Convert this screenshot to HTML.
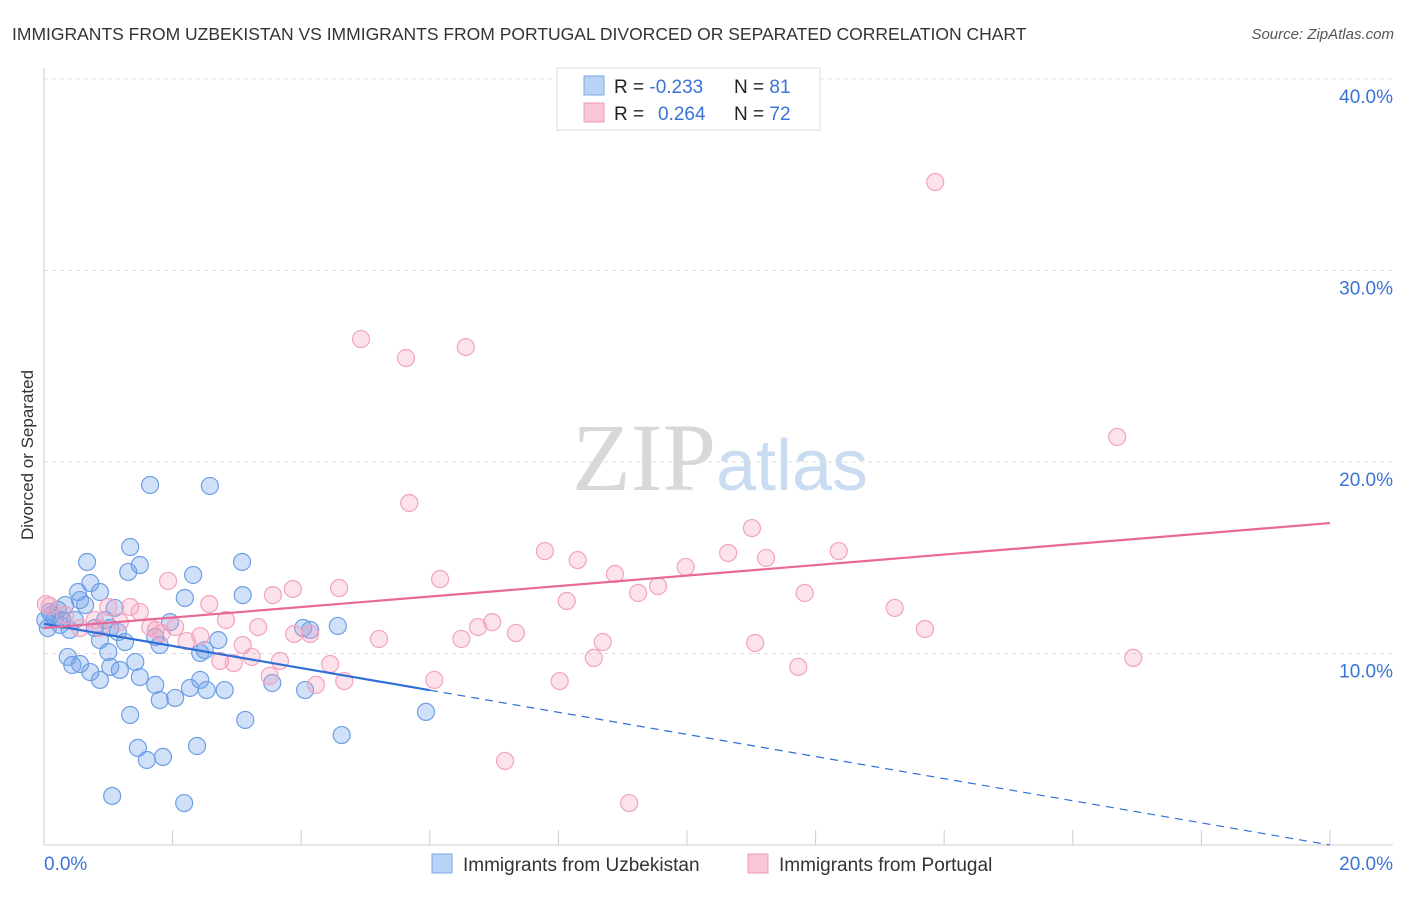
<!DOCTYPE html>
<html><head><meta charset="utf-8"><style>
body{margin:0;background:#fff;font-family:"Liberation Sans",sans-serif}
svg text{font-family:"Liberation Sans",sans-serif}
</style></head><body>
<svg id="chart" width="1406" height="892" xmlns="http://www.w3.org/2000/svg">
<text x="12" y="40" font-size="17.5" fill="#333">IMMIGRANTS FROM UZBEKISTAN VS IMMIGRANTS FROM PORTUGAL DIVORCED OR SEPARATED CORRELATION CHART</text>
<text x="1394" y="39" font-size="15" fill="#555" text-anchor="end" font-style="italic">Source: ZipAtlas.com</text>
<text x="720" y="490" font-size="96" text-anchor="middle"><tspan fill="#d8d8d8" font-family="Liberation Serif">ZIP</tspan><tspan fill="#c9dcf2" font-size="72">atlas</tspan></text>
<g id="grid"></g>
<g id="axes"></g>
<g id="pts"></g>
<g id="trends"></g>
<text transform="translate(33,455) rotate(-90)" font-size="17" fill="#333" text-anchor="middle">Divorced or Separated</text>
<g>
<rect x="557" y="68" width="263" height="62" fill="#fff" stroke="#ddd"/>
<rect x="584" y="76" width="20" height="19" fill="#b8d3f5" stroke="#7aa8e6"/>
<rect x="584" y="103" width="20" height="19" fill="#f9c6d5" stroke="#f09ab6"/>
<text x="614" y="93" font-size="19" fill="#222">R = <tspan fill="#3a73d6">-0.233</tspan><tspan x="734">N = </tspan><tspan fill="#3a73d6">81</tspan></text>
<text x="614" y="120" font-size="19" fill="#222">R = <tspan fill="#3a73d6" x="658">0.264</tspan><tspan x="734">N = </tspan><tspan fill="#3a73d6">72</tspan></text>
</g>
<g>
<rect x="432" y="854" width="20" height="19" fill="#b8d3f5" stroke="#7aa8e6"/>
<text x="463" y="871" font-size="19" fill="#333">Immigrants from Uzbekistan</text>
<rect x="748" y="854" width="20" height="19" fill="#f9c6d5" stroke="#f09ab6"/>
<text x="779" y="871" font-size="19" fill="#333">Immigrants from Portugal</text>
</g>
</svg>
<script>
const blueX=[0.09,0.17,0.25,0.06,0.33,0.40,0.48,0.56,0.64,0.72,0.87,0.53,0.67,1.34,1.49,1.31,1.65,2.58,3.08,2.32,2.19,3.09,1.10,0.95,1.15,1.26,0.87,0.79,1.03,0.37,0.44,0.56,0.72,0.87,1.00,1.03,1.18,1.42,1.49,1.73,1.80,2.04,2.27,2.43,2.53,2.81,2.43,2.50,2.71,1.80,1.73,1.96,1.34,3.13,3.55,4.06,4.03,4.14,4.57,4.63,5.94,1.46,1.60,1.85,2.38,1.06,2.18,0.12,0.22,0.28,0.02];
const blueY=[12.17,11.85,11.49,11.33,12.53,11.23,11.75,12.79,12.53,13.68,13.21,13.21,14.78,15.56,14.62,14.26,18.80,18.75,14.78,14.10,12.90,13.05,12.38,11.75,11.12,10.60,10.70,11.33,11.33,9.82,9.40,9.45,9.03,8.62,10.08,9.30,9.14,9.56,8.77,8.36,7.57,7.68,8.20,8.62,8.09,8.09,10.03,10.18,10.70,10.44,10.86,11.64,6.79,6.53,8.46,8.09,11.33,11.23,11.44,5.74,6.95,5.07,4.44,4.60,5.17,2.56,2.19,12.01,12.27,11.75,11.75];
const pinkX=[13.86,4.93,5.63,6.56,16.69,5.68,11.01,7.79,8.30,10.64,11.23,12.36,9.98,8.88,9.55,9.24,6.16,8.13,11.83,13.23,13.70,4.59,3.87,3.56,2.57,1.93,2.83,3.33,6.97,6.75,7.34,6.49,5.21,8.69,11.06,3.89,4.14,2.43,2.22,3.09,3.23,2.74,2.95,3.67,4.45,3.51,4.23,4.67,6.07,8.02,8.55,11.73,16.94,7.17,9.10,1.49,1.74,2.04,1.34,1.18,1.00,0.79,0.56,0.33,0.09,0.03,1.65,1.83,0.87];
const pinkY=[34.62,26.42,25.43,26.00,21.31,17.86,16.55,15.35,14.88,15.25,14.99,15.35,14.52,14.15,13.52,13.16,13.89,12.74,13.16,12.38,11.28,13.42,13.37,13.05,12.58,13.79,11.75,11.38,11.64,11.38,11.07,10.76,10.76,10.60,10.55,11.02,11.02,10.91,10.65,10.44,9.82,9.61,9.50,9.61,9.45,8.83,8.36,8.56,8.62,8.56,9.77,9.30,9.77,4.39,2.19,12.17,11.23,11.38,12.43,11.64,12.43,11.75,11.33,12.01,12.48,12.58,11.38,11.07,11.33];
const yTicks=[10,20,30,40];
const yTickLabels=["10.0%","20.0%","30.0%","40.0%"];
const xTickLabels=["0.0%","20.0%"];
const blueTrend=[11.55,-0.5775];
const pinkTrend=[11.33,0.274];
const NS="http://www.w3.org/2000/svg";
const X=v=>44+v*64.3, Y=v=>845-v*19.15;
function mk(t,a,p){const e=document.createElementNS(NS,t);for(const k in a)e.setAttribute(k,a[k]);p.appendChild(e);return e;}
const grid=document.getElementById('grid'),axes=document.getElementById('axes'),pts=document.getElementById('pts'),tr=document.getElementById('trends');
yTicks.forEach((t,i)=>{
 const l=mk('line',{x1:44,x2:1393,y1:Y(t),y2:Y(t),stroke:'#ddd','stroke-dasharray':'4,4'},grid);
 
 
 const tx=mk('text',{x:1393,y:Y(t)+24,'font-size':19,fill:'#3a73d6','text-anchor':'end'},axes);
 tx.textContent=yTickLabels[i];
 
 
});
mk('line',{x1:44,x2:44,y1:68,y2:845,stroke:'#ccc'},axes);
mk('line',{x1:44,x2:1393,y1:845,y2:845,stroke:'#ccc'},axes);
for(let i=0;i<=10;i++){mk('line',{x1:X(i*2),x2:X(i*2),y1:830,y2:845,stroke:'#ccc'},axes);}
const xl0=mk('text',{x:44,y:870,'font-size':19,fill:'#3a73d6'},axes);xl0.textContent=xTickLabels[0];


const xl1=mk('text',{x:1393,y:870,'font-size':19,fill:'#3a73d6','text-anchor':'end'},axes);xl1.textContent=xTickLabels[1];


blueX.forEach((x,i)=>{const c=mk('circle',{cx:X(x),cy:Y(blueY[i]),r:8.5,fill:'rgba(110,160,235,0.33)',stroke:'#6f9fe3','stroke-width':1.2},pts);
 
 });
pinkX.forEach((x,i)=>{const c=mk('circle',{cx:X(x),cy:Y(pinkY[i]),r:8.5,fill:'rgba(245,160,190,0.3)',stroke:'#f2a3bf','stroke-width':1.2},pts);
 
 });
const bf=x=>blueTrend[0]+blueTrend[1]*x, pf=x=>pinkTrend[0]+pinkTrend[1]*x;
const b1=mk('line',{x1:X(0),y1:Y(bf(0)),x2:X(6),y2:Y(bf(6)),stroke:'#2f6fd6','stroke-width':2.2},tr);


const b2=mk('line',{x1:X(6),y1:Y(bf(6)),x2:X(20),y2:Y(bf(20)),stroke:'#2f6fd6','stroke-width':1.2,'stroke-dasharray':'8,6'},tr);


const p1=mk('line',{x1:X(0),y1:Y(pf(0)),x2:X(20),y2:Y(pf(20)),stroke:'#e8689a','stroke-width':2.2},tr);


</script>
</body></html>
